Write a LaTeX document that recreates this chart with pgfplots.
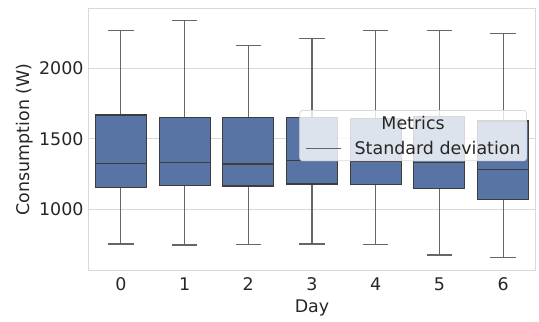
\documentclass[border=0pt]{standalone}
\usepackage{pgfplots}
\pgfplotsset{compat=1.18}
\usepgfplotslibrary{statistics}
\usepackage{fontspec}
\setmainfont{DejaVu Sans}
\definecolor{boxblue}{HTML}{5874A4}
\definecolor{edge}{HTML}{3D3D3D}
\definecolor{whisk}{HTML}{666666}
\definecolor{gridc}{HTML}{D9D9D9}
\begin{document}
\begin{tikzpicture}
\useasboundingbox (-89bp,-52bp) rectangle (450bp,270bp);
\begin{axis}[
  at={(0,0)}, anchor=south west,
  scale only axis, width=446bp, height=261bp,
  xmin=-0.5, xmax=6.5, ymin=566, ymax=2423,
  xtick={0,1,2,3,4,5,6},
  ytick={1000,1500,2000},
  major tick length=0pt,
  major grid style={gridc, line width=0.9bp},
  axis line style={gridc, line width=1bp},
  ymajorgrids=true, xmajorgrids=false,
  tick label style={font=\fontsize{17.5}{20}\selectfont, text=black!85},
  label style={font=\fontsize{17.5}{20}\selectfont, text=black!85},
  /pgf/number format/assume math mode=true,
  /pgf/number format/1000 sep={},
  xlabel={Day}, ylabel={Consumption (W)},
  xlabel style={yshift=-2bp},
  ylabel style={yshift=-1bp},
  yticklabel style={xshift=-2bp},
  xticklabel style={yshift=-4bp},
  boxplot/draw direction=y,
  boxplot/box extend=0.8,
  boxplot/whisker extend=0.4,
  every boxplot/.style={solid, fill=boxblue, draw=edge, line width=1.1bp},
  boxplot/every whisker/.style={draw=whisk, line width=1.1bp},
  boxplot/every median/.style={draw=edge, line width=1.1bp},
]
\addplot[boxplot prepared={draw position=0, lower whisker=751, lower quartile=1154, median=1325, upper quartile=1669, upper whisker=2269}] coordinates {};
\addplot[boxplot prepared={draw position=1, lower whisker=744, lower quartile=1169, median=1330, upper quartile=1650, upper whisker=2340}] coordinates {};
\addplot[boxplot prepared={draw position=2, lower whisker=749, lower quartile=1164, median=1320, upper quartile=1650, upper whisker=2162}] coordinates {};
\addplot[boxplot prepared={draw position=3, lower whisker=751, lower quartile=1178, median=1344, upper quartile=1650, upper whisker=2210}] coordinates {};
\addplot[boxplot prepared={draw position=4, lower whisker=746, lower quartile=1176, median=1340, upper quartile=1641, upper whisker=2269}] coordinates {};
\addplot[boxplot prepared={draw position=5, lower whisker=673, lower quartile=1145, median=1330, upper quartile=1657, upper whisker=2269}] coordinates {};
\addplot[boxplot prepared={draw position=6, lower whisker=655, lower quartile=1069, median=1283, upper quartile=1626, upper whisker=2248}] coordinates {};
\node[anchor=north east, draw=gridc, line width=0.8bp, fill=white, fill opacity=0.8, text opacity=1, rounded corners=3bp, inner xsep=6bp, inner ysep=6bp,
  font=\fontsize{17.5}{25}\selectfont, text=black!85, align=center]
  at (rel axis cs:0.982,0.613)
  {Metrics\\\textcolor{whisk}{\rule[0.33em]{35bp}{1.1bp}}\hspace{14bp}Standard deviation};
\end{axis}
\end{tikzpicture}
\end{document}
